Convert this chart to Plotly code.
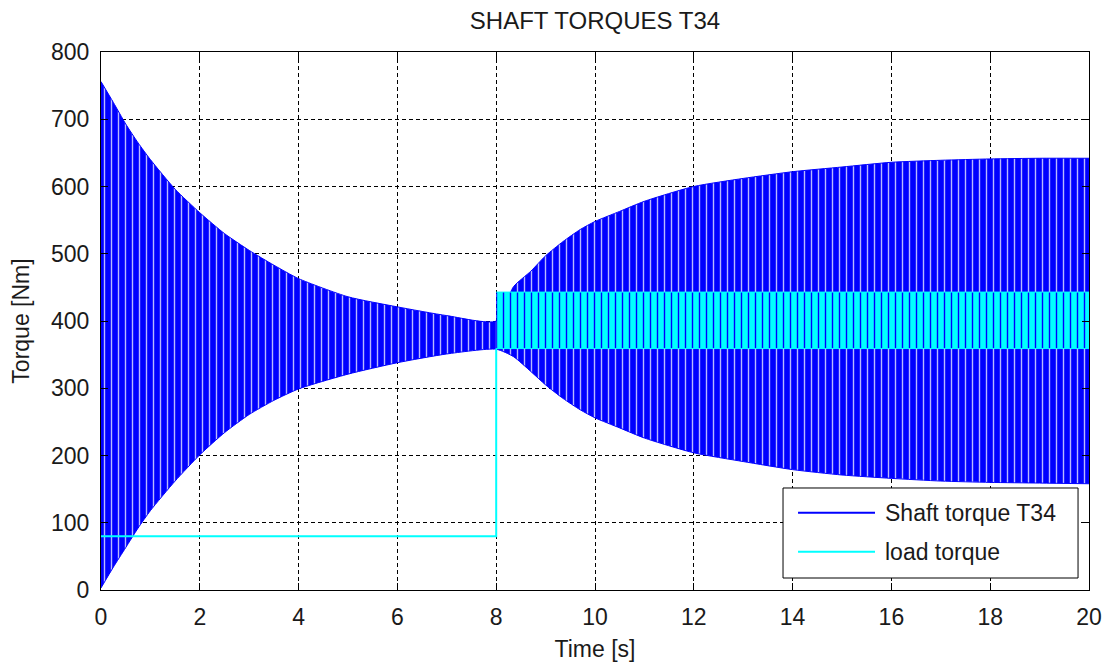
import plotly.graph_objects as go

# Shaft torque T34: upper and lower peak envelopes of the oscillation [Nm]
t_env = [0, 0.25, 0.5, 0.75, 1, 1.5, 2, 2.5, 3, 3.5, 4, 5, 6, 7, 8,
         8.35, 8.7, 9, 9.35, 9.7, 10, 10.5, 11, 12, 13, 14, 15, 16, 17, 18, 19, 20]
shaft_upper = [756, 725, 693, 665, 640, 596, 561, 530, 505, 483, 463, 436, 421, 408, 400,
               451, 474, 497, 518, 536, 548, 563, 578, 600, 612, 622, 629, 636, 639, 641, 642, 642]
shaft_lower = [3, 34, 63, 92, 118, 162, 201, 234, 261, 282, 299, 321, 338, 351, 358,
               347, 325, 305, 285, 268, 256, 241, 226, 204, 191, 179, 171, 166, 162, 160, 159, 158]

# Load torque: constant level, step at t = 8 s, then oscillating band [Nm]
t_load_step = [0, 8, 8]
load_step = [80, 80, 359]
t_load_band = [8, 20]
load_band_upper = [443, 443]
load_band_lower = [359, 359]

x_ticks = [0, 2, 4, 6, 8, 10, 12, 14, 16, 18, 20]
y_ticks = [0, 100, 200, 300, 400, 500, 600, 700, 800]

series_names = ["Shaft torque T34", "load torque"]
BLUE = "#0000ff"
CYAN = "#00ffff"
FONT = "Liberation Sans, Arial, sans-serif"
TXT = "#1a1a1a"

fig = go.Figure()

# shaft torque band, drawn as a striped fill between its envelopes
fig.add_trace(go.Scatter(x=t_env, y=shaft_upper, mode="lines",
                         line=dict(color=BLUE, width=1, shape="spline", smoothing=0.6),
                         showlegend=False, hoverinfo="skip"))
fig.add_trace(go.Scatter(x=t_env, y=shaft_lower, mode="lines",
                         line=dict(color=BLUE, width=1, shape="spline", smoothing=0.6),
                         fill="tonexty", fillcolor=BLUE,
                         fillpattern=dict(shape="|", size=7, solidity=0.2,
                                          fgcolor="#b8b8ff", bgcolor=BLUE,
                                          fillmode="replace"),
                         name=series_names[0], showlegend=False, hoverinfo="skip"))

# load torque
fig.add_trace(go.Scatter(x=t_load_step, y=load_step, mode="lines",
                         line=dict(color=CYAN, width=2),
                         name=series_names[1], showlegend=False))
fig.add_trace(go.Scatter(x=t_load_band, y=load_band_upper, mode="lines",
                         line=dict(color=CYAN, width=1),
                         showlegend=False, hoverinfo="skip"))
fig.add_trace(go.Scatter(x=t_load_band, y=load_band_lower, mode="lines",
                         line=dict(color=CYAN, width=1),
                         fill="tonexty", fillcolor=CYAN,
                         fillpattern=dict(shape="|", size=7, solidity=0.2,
                                          fgcolor=BLUE, bgcolor=CYAN,
                                          fillmode="replace"),
                         showlegend=False, hoverinfo="skip"))

axis_common = dict(
    showline=True, linecolor="black", linewidth=1, mirror="ticks",
    ticks="inside", ticklen=7, tickcolor="black", tickwidth=1,
    showgrid=True, gridcolor="black", gridwidth=1, griddash="4px,3px",
    zeroline=False, tickfont=dict(family=FONT, size=23, color=TXT),
    ticklabelstandoff=6, automargin=False,
)

fig.update_xaxes(range=[0, 20], tickvals=x_ticks,
                 title=dict(text="Time [s]", font=dict(family=FONT, size=23, color=TXT),
                            standoff=12),
                 **axis_common)
fig.update_yaxes(range=[0, 800], tickvals=y_ticks,
                 title=dict(text="Torque [Nm]", font=dict(family=FONT, size=23, color=TXT),
                            standoff=14),
                 **axis_common)

# legend box in the lower right corner of the axes
lx0, lx1, ly0, ly1 = 0.6903, 0.9889, 0.0223, 0.1896
entries = [(series_names[0], BLUE, 0.1437), (series_names[1], CYAN, 0.0712)]
shapes = [dict(type="rect", xref="paper", yref="paper", x0=lx0, x1=lx1, y0=ly0, y1=ly1,
               line=dict(color="black", width=1), fillcolor="white", layer="above")]
annotations = []
for name, color, yy in entries:
    shapes.append(dict(type="line", xref="paper", yref="paper", x0=0.7055, x1=0.7834,
                       y0=yy, y1=yy, line=dict(color=color, width=2), layer="above"))
    annotations.append(dict(text=name, xref="paper", yref="paper", x=0.7915, y=yy,
                            xanchor="left", yanchor="middle", showarrow=False,
                            font=dict(family=FONT, size=23, color=TXT)))

fig.update_layout(
    width=1107, height=668,
    margin=dict(l=101, r=18, t=52, b=78),
    paper_bgcolor="white", plot_bgcolor="white",
    title=dict(text="SHAFT TORQUES T34", x=0.5, xref="paper", xanchor="center",
               y=1 - 21 / 668, yref="container", yanchor="middle",
               font=dict(family=FONT, size=24, color=TXT)),
    shapes=shapes, annotations=annotations,
    showlegend=False,
)

fig.write_html("out.html")
